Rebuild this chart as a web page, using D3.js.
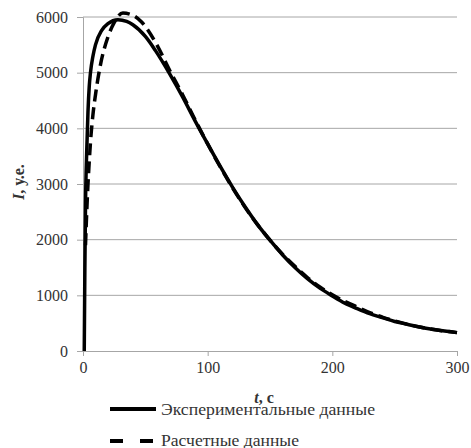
<!DOCTYPE html>
<html>
<head>
<meta charset="utf-8">
<script src="https://cdn.jsdelivr.net/npm/d3@7/dist/d3.min.js"></script>
<style>
  body { margin: 0; background: #fff; }
</style>
</head>
<body>
<div id="chart"></div>
<script>
// experimental data (solid)
const expT = [1, 1.5, 2, 3, 4, 5, 6, 8, 10, 15, 20, 28, 35, 40, 50, 58, 70, 80, 90, 100, 110, 120, 130, 140, 150, 160, 170, 180, 190, 200, 210, 220, 230, 240, 250, 260, 270, 280, 290, 300];
const expI = [0, 1500, 2600, 3600, 4300, 4750, 5000, 5300, 5500, 5760, 5880, 5950, 5920, 5860, 5650, 5400, 4960, 4560, 4130, 3720, 3320, 2940, 2590, 2270, 1990, 1730, 1500, 1300, 1130, 990, 860, 760, 670, 600, 530, 480, 430, 390, 360, 330];
// calculated data (dashed)
const calcT = [2, 3, 4, 5, 6, 8, 10, 14, 20, 25, 32, 40, 47, 58, 70, 80, 90, 100, 110, 120, 130, 140, 150, 160, 170, 180, 190, 200, 210, 220, 230, 240, 250, 260, 270, 280, 290, 300];
const calcI = [1900, 2500, 3000, 3400, 3750, 4250, 4600, 5140, 5640, 5900, 6070, 6030, 5910, 5550, 5020, 4600, 4150, 3720, 3310, 2930, 2580, 2270, 1990, 1740, 1520, 1320, 1150, 1010, 890, 790, 690, 610, 540, 480, 430, 390, 360, 330];

const xTicks = [0, 100, 200, 300];
const yTicks = [0, 1000, 2000, 3000, 4000, 5000, 6000];
const legendLabels = ['Экспериментальные данные', 'Расчетные данные'];

const serif = '"Liberation Serif", "Times New Roman", "DejaVu Serif", serif';
const w = 471, h = 448;
const margin = { top: 17, right: 14, bottom: 97, left: 83 };

const svg = d3.select('#chart').append('svg').attr('width', w).attr('height', h)
  .style('font-family', serif);

const x = d3.scaleLinear().domain([0, 300]).range([margin.left, w - margin.right]);
const y = d3.scaleLinear().domain([0, 6000]).range([h - margin.bottom, margin.top]);

// gridlines
svg.append('g')
  .selectAll('line')
  .data(yTicks.filter(d => d > 0))
  .enter()
  .append('line')
  .attr('x1', x(0)).attr('x2', x(300))
  .attr('y1', d => y(d)).attr('y2', d => y(d))
  .attr('stroke', '#a6a6a6').attr('stroke-width', 1);

// y axis
const yAxis = svg.append('g')
  .attr('transform', 'translate(' + x(0) + ',0)')
  .call(d3.axisLeft(y).tickValues(yTicks).tickSize(6).tickPadding(9).tickFormat(d3.format('d')));
yAxis.attr('font-family', null);
yAxis.select('.domain').attr('stroke', '#a6a6a6');
yAxis.selectAll('.tick line').attr('stroke', '#a6a6a6');
yAxis.selectAll('text').style('font-size', '16px').style('font-family', serif).attr('fill', '#333');

// x axis
const xAxis = svg.append('g')
  .attr('transform', 'translate(0,' + y(0) + ')')
  .call(d3.axisBottom(x).tickValues(xTicks).tickSize(5).tickPadding(6));
xAxis.attr('font-family', null);
xAxis.select('.domain').attr('stroke', '#a6a6a6');
xAxis.selectAll('.tick line').attr('stroke', '#a6a6a6');
xAxis.selectAll('text').style('font-size', '16px').style('font-family', serif).attr('fill', '#333');

// axis titles
const yTitle = svg.append('text')
  .attr('transform', 'translate(24,182) rotate(-90)')
  .attr('text-anchor', 'middle')
  .attr('fill', '#333')
  .style('font-size', '16px')
  .style('font-weight', 'bold');
yTitle.append('tspan').style('font-style', 'italic').text('I');
yTitle.append('tspan').text(', у.е.');

const xTitle = svg.append('text')
  .attr('x', 264).attr('y', 403)
  .attr('text-anchor', 'middle')
  .attr('fill', '#333')
  .style('font-size', '16px')
  .style('font-weight', 'bold');
xTitle.append('tspan').style('font-style', 'italic').text('t');
xTitle.append('tspan').text(', с');

// lines
const line = d3.line().x(d => x(d[0])).y(d => y(d[1])).curve(d3.curveMonotoneX);

svg.append('path')
  .datum(expT.map((t, i) => [t, expI[i]]))
  .attr('d', line)
  .attr('fill', 'none')
  .attr('stroke', '#000')
  .attr('stroke-width', 3.5);

svg.append('path')
  .datum(calcT.map((t, i) => [t, calcI[i]]))
  .attr('d', line)
  .attr('fill', 'none')
  .attr('stroke', '#000')
  .attr('stroke-width', 3.5)
  .attr('stroke-dasharray', '12,6');

// legend
const legend = svg.append('g');
legend.append('line')
  .attr('x1', 110).attr('x2', 156).attr('y1', 409).attr('y2', 409)
  .attr('stroke', '#000').attr('stroke-width', 4);
legend.append('text')
  .attr('x', 161).attr('y', 415)
  .attr('fill', '#333')
  .style('font-size', '16px')
  .attr('textLength', 214)
  .attr('lengthAdjust', 'spacingAndGlyphs')
  .text(legendLabels[0]);
legend.append('line')
  .attr('x1', 110).attr('x2', 156).attr('y1', 441).attr('y2', 441)
  .attr('stroke', '#000').attr('stroke-width', 4)
  .attr('stroke-dasharray', '13,17');
legend.append('text')
  .attr('x', 161).attr('y', 446)
  .attr('fill', '#333')
  .style('font-size', '16px')
  .attr('textLength', 138)
  .attr('lengthAdjust', 'spacingAndGlyphs')
  .text(legendLabels[1]);
</script>
</body>
</html>
